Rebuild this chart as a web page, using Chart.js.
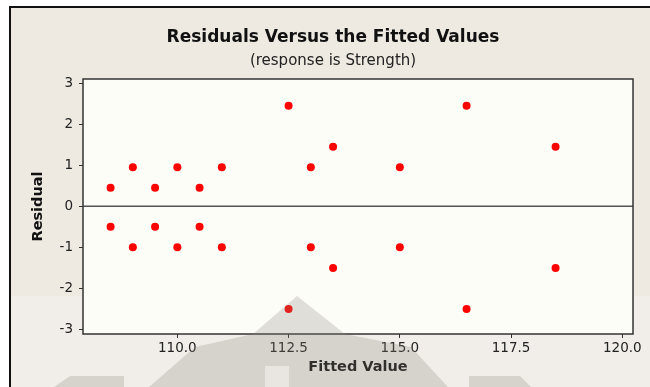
<!DOCTYPE html>
<html>
<head>
<meta charset="utf-8">
<script src="https://cdn.jsdelivr.net/npm/chart.js@4"></script>
<style>
    html, body { margin: 0; padding: 0; background: #fff; }
    #wrap { width: 650px; height: 387px; }
</style>
</head>
<body>
<div id="wrap"><canvas id="resid"></canvas></div>
<script>
const fitted = [108.5, 108.5, 109.0, 109.0, 109.5, 109.5, 110.0, 110.0, 110.5, 110.5, 111.0, 111.0,
    112.5, 112.5, 113.0, 113.0, 113.5, 113.5, 115.0, 115.0, 116.5, 116.5, 118.5, 118.5]
const residual = [0.45, -0.5, 0.95, -1, 0.45, -0.5, 0.95, -1, 0.45, -0.5, 0.95, -1,
    2.45, -2.5, 0.95, -1, 1.45, -1.5, 0.95, -1, 2.45, -2.5, 1.45, -1.5]
const xTicks = [110.0, 112.5, 115.0, 117.5, 120.0]
const yTicks = [-3, -2, -1, 0, 1, 2, 3]

const ctx = document.getElementById('resid').getContext('2d')

// page background, plot panel, zero line and faded watermark
const backdrop = {
    id: 'backdrop',
    beforeDraw(chart) {
        const c = chart.ctx
        const a = chart.chartArea
        c.save()
        c.fillStyle = '#ffffff'
        c.fillRect(0, 0, chart.width, chart.height)
        c.fillStyle = '#eeeae2'
        c.fillRect(10, 7, chart.width - 10, chart.height - 7)
        c.fillStyle = '#f1eee9'
        c.fillRect(10, 296, chart.width - 10, chart.height - 296)
        c.strokeStyle = '#111'
        c.lineWidth = 2
        c.beginPath()
        c.moveTo(10, chart.height)
        c.lineTo(10, 7)
        c.lineTo(chart.width, 7)
        c.stroke()
        c.fillStyle = '#fdfdf8'
        c.fillRect(a.left, a.top, a.right - a.left, a.bottom - a.top)
        c.restore()
    },
    beforeDatasetsDraw(chart) {
        const c = chart.ctx
        const a = chart.chartArea
        const y0 = chart.scales.y.getPixelForValue(0)
        c.save()
        c.strokeStyle = '#555'
        c.lineWidth = 1.5
        c.beginPath()
        c.moveTo(a.left, y0)
        c.lineTo(a.right, y0)
        c.stroke()
        c.strokeStyle = '#333'
        c.strokeRect(a.left, a.top, a.right - a.left, a.bottom - a.top)
        c.restore()
    },
    afterDatasetsDraw(chart) {
        const c = chart.ctx
        c.save()
        c.fillStyle = 'rgba(140, 135, 125, 0.26)'
        c.beginPath()
        c.moveTo(297, 296)
        c.lineTo(345, 334)
        c.lineTo(411, 347)
        c.lineTo(448, 387)
        c.lineTo(149, 387)
        c.lineTo(195, 347)
        c.lineTo(253, 334)
        c.closePath()
        c.fill()
        c.beginPath()
        c.moveTo(70, 376)
        c.lineTo(124, 376)
        c.lineTo(124, 387)
        c.lineTo(54, 387)
        c.closePath()
        c.fill()
        c.beginPath()
        c.moveTo(469, 376)
        c.lineTo(520, 376)
        c.lineTo(531, 387)
        c.lineTo(469, 387)
        c.closePath()
        c.fill()
        // lighter cut inside the logo
        c.fillStyle = 'rgba(241, 238, 233, 0.7)'
        c.fillRect(265, 366, 24, 21)
        c.restore()
    }
}

new Chart(ctx, {
    type: 'scatter',
    data: {
        datasets: [{
            label: 'Residual',
            data: fitted.map((f, i) => ({ x: f, y: residual[i] })),
            backgroundColor: '#ff0000',
            borderColor: '#ff0000',
            pointRadius: 4,
            pointHoverRadius: 4,
            borderWidth: 0
        }]
    },
    options: {
        responsive: true,
        maintainAspectRatio: false,
        animation: false,
        events: [],
        layout: { padding: { left: 33, right: 17, top: 0, bottom: 0 } },
        plugins: {
            legend: { display: false },
            tooltip: { enabled: false },
            title: {
                display: true,
                text: 'Residuals Versus the Fitted Values',
                color: '#111',
                font: { family: 'DejaVu Sans', size: 17, weight: 'bold' },
                padding: { top: 27, bottom: 0 }
            },
            subtitle: {
                display: true,
                text: '(response is Strength)',
                color: '#222',
                font: { family: 'DejaVu Sans', size: 15 },
                padding: { top: 4.6, bottom: 9 }
            }
        },
        scales: {
            x: {
                type: 'linear',
                min: 107.88,
                max: 120.24,
                afterFit: s => { s.height = 53 },
                afterBuildTicks: s => { s.ticks = xTicks.map(v => ({ value: v })) },
                ticks: {
                    callback: v => v.toFixed(1),
                    color: '#222',
                    font: { family: 'DejaVu Sans', size: 13.5 },
                    padding: 2,
                    maxRotation: 0
                },
                grid: { drawOnChartArea: false, tickLength: 4, color: '#333' },
                border: { display: false },
                title: {
                    display: true,
                    text: 'Fitted Value',
                    color: '#111',
                    font: { family: 'DejaVu Sans', size: 14.5, weight: 'bold' },
                    padding: { top: 0, bottom: 10.8 }
                }
            },
            y: {
                type: 'linear',
                min: -3.11,
                max: 3.1,
                afterFit: s => { s.width = 50 },
                afterBuildTicks: s => { s.ticks = yTicks.map(v => ({ value: v })) },
                ticks: {
                    callback: v => String(v),
                    color: '#222',
                    font: { family: 'DejaVu Sans', size: 13.5 },
                    padding: 6
                },
                grid: { drawOnChartArea: false, tickLength: 4, color: '#333' },
                border: { display: false },
                title: {
                    display: true,
                    text: 'Residual',
                    color: '#111',
                    font: { family: 'DejaVu Sans', size: 14.5, weight: 'bold' },
                    padding: { top: -3.7, bottom: 0 }
                }
            }
        }
    },
    plugins: [backdrop]
})
</script>
</body>
</html>
